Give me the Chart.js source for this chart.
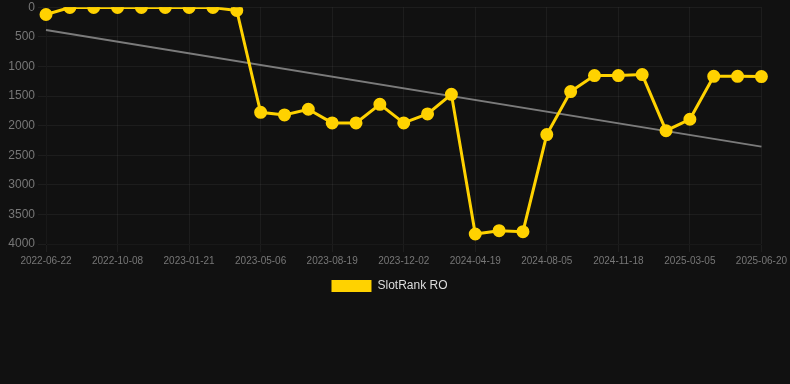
<!DOCTYPE html>
<html>
<head>
<meta charset="utf-8">
<script src="https://cdn.jsdelivr.net/npm/chart.js@4"></script>
<style>
  html, body { margin: 0; padding: 0; background: #111111; overflow: hidden; }
  #wrap { width: 790px; height: 305px; position: relative; top: -3px; }
</style>
</head>
<body>
<div id="wrap"><canvas id="chart"></canvas></div>
<script>
const dates = [
  '2022-06-22', '2022-07-28', '2022-09-02', '2022-10-08', '2022-11-12', '2022-12-17',
  '2023-01-21', '2023-02-25', '2023-04-01', '2023-05-06', '2023-06-10', '2023-07-15',
  '2023-08-19', '2023-09-23', '2023-10-28', '2023-12-02', '2024-01-17', '2024-03-03',
  '2024-04-19', '2024-05-25', '2024-06-30', '2024-08-05', '2024-09-09', '2024-10-14',
  '2024-11-18', '2024-12-24', '2025-01-28', '2025-03-05', '2025-04-10', '2025-05-15',
  '2025-06-20',
];
const rankRO = [
  123, 5, 5, 5, 5, 5, 5, 5, 56, 1775, 1819, 1724,
  1954, 1954, 1640, 1954, 1802, 1471, 3831, 3775, 3792, 2152,
  1425, 1155, 1155, 1138, 2085, 1893, 1167, 1167, 1172,
];
const trendEnds = [384, 2355]; // first and last point of the trend line
const yTicks = [0, 500, 1000, 1500, 2000, 2500, 3000, 3500, 4000];

const YELLOW = '#ffd200';

// trend only has values at both ends, gap spanned in between
const trendData = dates.map((d, i) =>
  i === 0 ? trendEnds[0] : i === dates.length - 1 ? trendEnds[1] : null
);

new Chart(document.getElementById('chart'), {
  type: 'line',
  data: {
    labels: dates,
    datasets: [
      {
        label: 'SlotRank RO',
        data: rankRO,
        borderColor: YELLOW,
        backgroundColor: YELLOW,
        borderWidth: 3,
        pointRadius: 5,
        pointHoverRadius: 6,
        tension: 0,
        order: 1,
      },
      {
        label: 'trend',
        data: trendData,
        borderColor: 'rgba(150,150,150,0.8)',
        borderWidth: 2,
        pointRadius: 0,
        spanGaps: true,
        order: 2,
      },
    ],
  },
  options: {
    responsive: true,
    maintainAspectRatio: false,
    animation: false,
    layout: { padding: { left: 0, right: 11, top: 0 } },
    scales: {
      x: {
        ticks: { color: '#777', font: { size: 10 }, maxRotation: 0 },
        grid: { color: 'rgba(255,255,255,0.05)' },
      },
      y: {
        reverse: true,
        min: 0,
        max: 4000,
        afterBuildTicks: (axis) => { axis.ticks = yTicks.map((v) => ({ value: v })); },
        afterFit: (axis) => { axis.width = 46; },
        ticks: {
          color: '#777',
          font: { size: 12 },
          callback: (value) => String(value),
        },
        grid: { color: 'rgba(255,255,255,0.05)' },
      },
    },
    plugins: {
      legend: {
        position: 'bottom',
        labels: {
          color: '#dddddd',
          font: { size: 12 },
          boxWidth: 40,
          boxHeight: 12,
          filter: (item) => item.text !== 'trend',
          generateLabels: (chart) =>
            Chart.defaults.plugins.legend.labels.generateLabels(chart).map((item) => ({
              ...item,
              lineWidth: 0,
            })),
        },
      },
      tooltip: { enabled: false },
    },
  },
});
</script>
</body>
</html>
